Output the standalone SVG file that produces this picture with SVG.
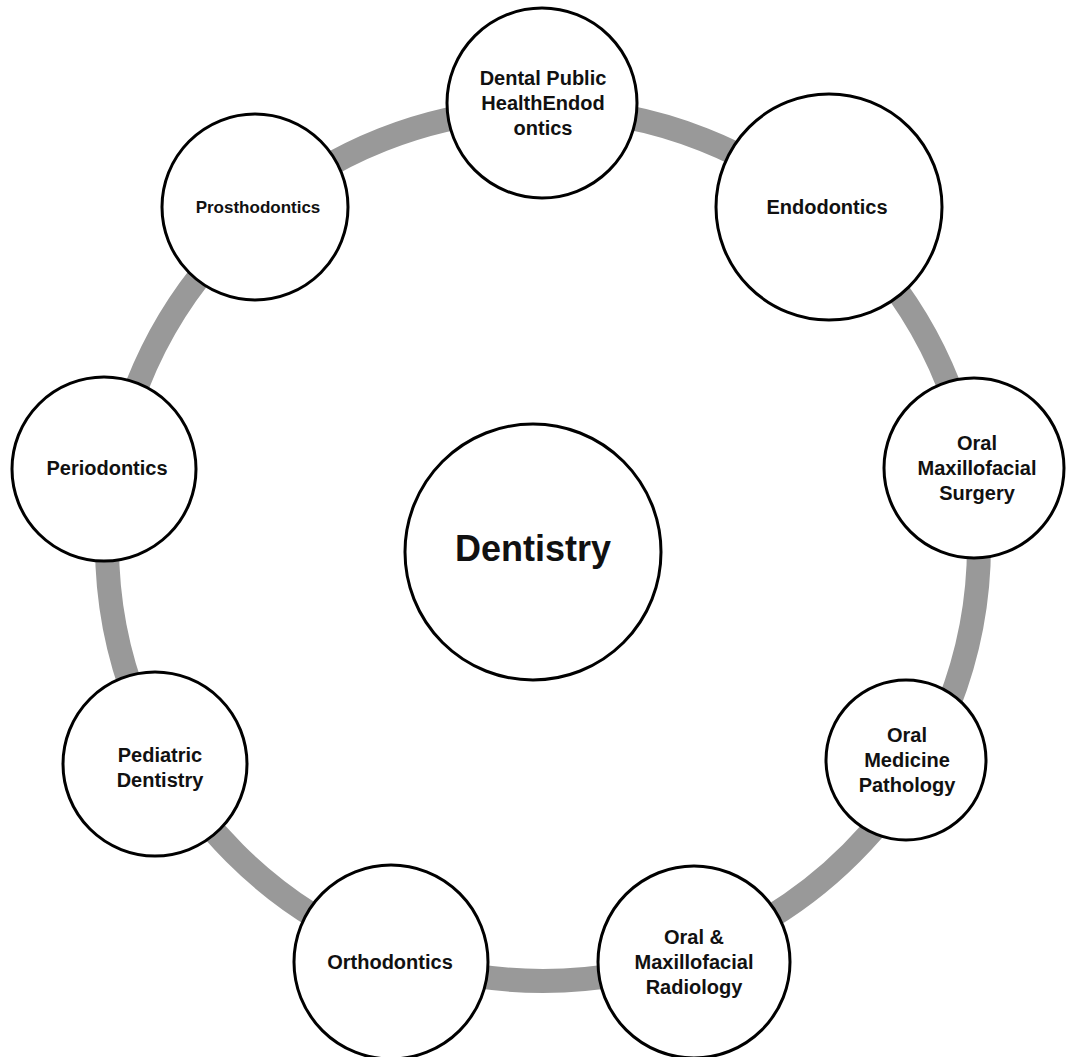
<svg xmlns="http://www.w3.org/2000/svg" width="1067" height="1057" viewBox="0 0 1067 1057">
<style>
.node{fill:#ffffff;stroke:#000000;stroke-width:3}
.lbl{font-family:"Liberation Sans",Arial,sans-serif;font-weight:bold;font-size:20px;fill:#111111;text-anchor:middle}
.ring{fill:none;stroke:#999999;stroke-width:24}
</style>
<rect width="1067" height="1057" fill="#ffffff"/>
<g id="connectors">
<circle class="ring" cx="543" cy="545" r="436"/>
</g>
<g id="center">
<circle class="node" cx="533" cy="552" r="128"/>
<text class="lbl" x="533" y="561" style="font-size:36px">Dentistry</text>
</g>
<g id="dental-public-health">
<circle class="node" cx="542" cy="103" r="95"/>
<text class="lbl" x="543" y="85">Dental Public</text>
<text class="lbl" x="543" y="110">HealthEndod</text>
<text class="lbl" x="543" y="135">ontics</text>
</g>
<g id="endodontics">
<circle class="node" cx="829" cy="207" r="113"/>
<text class="lbl" x="827" y="214">Endodontics</text>
</g>
<g id="oral-maxillofacial-surgery">
<circle class="node" cx="974" cy="468" r="90"/>
<text class="lbl" x="977" y="450">Oral</text>
<text class="lbl" x="977" y="475">Maxillofacial</text>
<text class="lbl" x="977" y="500">Surgery</text>
</g>
<g id="oral-medicine-pathology">
<circle class="node" cx="906" cy="760" r="80"/>
<text class="lbl" x="907" y="742">Oral</text>
<text class="lbl" x="907" y="767">Medicine</text>
<text class="lbl" x="907" y="792">Pathology</text>
</g>
<g id="oral-maxillofacial-radiology">
<circle class="node" cx="694" cy="962" r="96"/>
<text class="lbl" x="694" y="944">Oral &amp;</text>
<text class="lbl" x="694" y="969">Maxillofacial</text>
<text class="lbl" x="694" y="994">Radiology</text>
</g>
<g id="orthodontics">
<circle class="node" cx="391" cy="962" r="97"/>
<text class="lbl" x="390" y="969">Orthodontics</text>
</g>
<g id="pediatric-dentistry">
<circle class="node" cx="155" cy="764" r="92"/>
<text class="lbl" x="160" y="762">Pediatric</text>
<text class="lbl" x="160" y="787">Dentistry</text>
</g>
<g id="periodontics">
<circle class="node" cx="104" cy="469" r="92"/>
<text class="lbl" x="107" y="475">Periodontics</text>
</g>
<g id="prosthodontics">
<circle class="node" cx="255" cy="207" r="93"/>
<text class="lbl" x="258" y="213" style="font-size:17px">Prosthodontics</text>
</g>
</svg>
